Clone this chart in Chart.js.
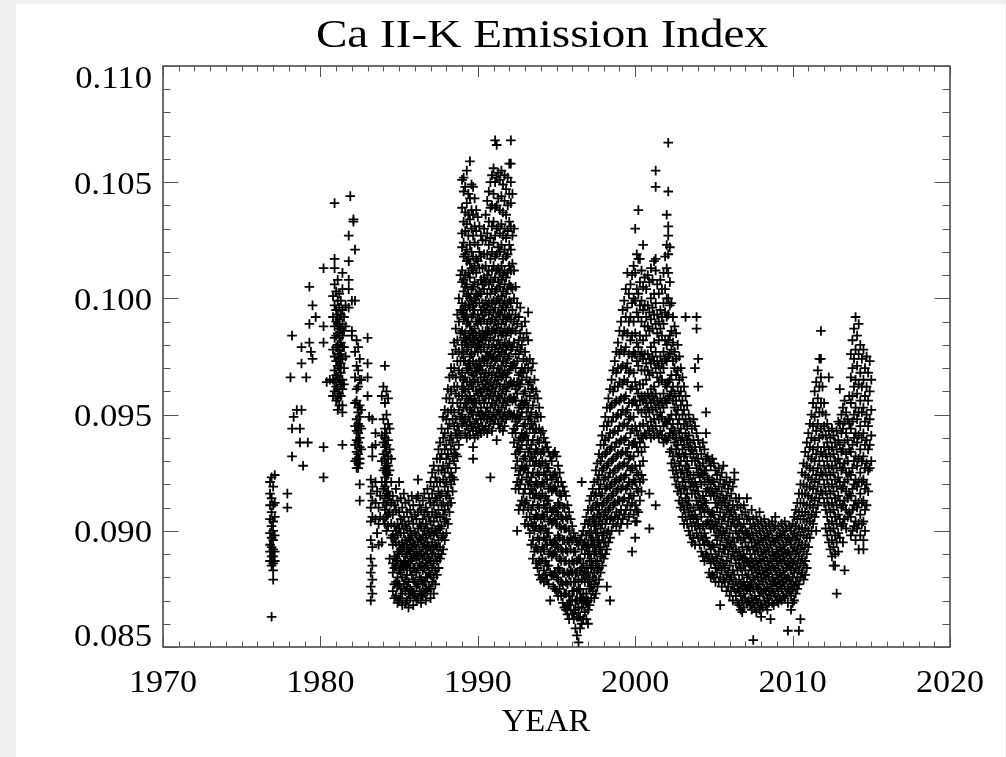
<!DOCTYPE html>
<html>
<head>
<meta charset="utf-8">
<title>Ca II-K Emission Index</title>
<script src="https://cdn.jsdelivr.net/npm/chart.js@4.4.0/dist/chart.umd.min.js"></script>
<style>
  html, body { margin: 0; padding: 0; background: #efefef; }
  #sheet { position: absolute; left: 16px; top: 4px; width: 989px; height: 753px; background: #fff; }
  #kChart { position: absolute; left: 0; top: 0; }
</style>
</head>
<body>
<div id="sheet"></div>
<canvas id="kChart" width="1006" height="757"></canvas>
<script>
// Ejes y textos
const chartTitle = 'Ca II-K Emission Index';
const xTitle = 'YEAR';
const yearTicks = [1970, 1980, 1990, 2000, 2010, 2020];
const indexTicks = [0.085, 0.090, 0.095, 0.100, 0.105, 0.110];

// Observaciones del índice K agrupadas por temporada: [año decimal, [valores del índice]]
const cycle21 = [
  [1976.8, [.0921, .0916, .0911, .0905, .0899, .0894, .0891, .0887]],
  [1976.9, [.0923, .0914, .0908, .0902, .0897, .0893, .0889, .0885, .0863]],
  [1977.0, [.0919, .0911, .0904, .0900, .0896, .0892, .0889, .0886, .0883, .0879]],
  [1977.1, [.0924, .0912, .0906, .0898, .0891, .0887]],
  [1977.9, [.0916, .0910]],
  [1978.1, [.0966]],
  [1978.2, [.0984, .0944, .0932]],
  [1978.3, [.0949]],
  [1978.5, [.0952]],
  [1978.7, [.0944, .0938]],
  [1978.8, [.0979, .0972, .0952]],
  [1978.9, [.0928]],
  [1979.1, [.0966]],
  [1979.2, [.0938]],
  [1979.3, [.1005, .0989, .0981]],
  [1979.4, [.0977]],
  [1979.5, [.0997, .0974]],
  [1979.7, [.0992]],
  [1980.2, [.1013, .0988, .0981, .0936, .0923]],
  [1980.4, [.0964]],
  [1980.6, [.0965]],
  [1980.8, [.1001, .0992, .0978, .0965, .0958]],
  [1980.9, [.1041, .1017, .1013, .1006, .0997, .0988, .0983, .0975, .0969, .0964, .0960]],
  [1981.0, [.1003, .0995, .0990, .0984, .0979, .0973, .0967, .0962, .0956]],
  [1981.1, [.1008, .0999, .0993, .0989, .0985, .0980, .0976, .0971, .0966, .0961, .0957, .0952]],
  [1981.2, [.1002, .0996, .0991, .0987, .0983, .0978, .0974, .0970, .0965, .0959, .0954]],
  [1981.3, [.0999, .0993, .0987, .0981, .0976, .0972, .0968, .0963, .0958]],
  [1981.4, [.1011, .1004, .0995, .0989, .0984, .0979, .0974, .0965, .0961, .0954, .0951, .0937]],
  [1981.5, [.0992, .0986, .0979, .0970, .0963]],
  [1981.6, [.0997, .0988, .0975]],
  [1981.8, [.1027, .1016, .1008, .1004, .0996]],
  [1981.9, [.1044]],
  [1982.0, [.0999, .0986, .0984]],
  [1982.1, [.1034, .1033]],
  [1982.2, [.1021, .0999, .0977, .0966, .0955, .0945, .0937, .0930]],
  [1982.3, [.0982, .0971, .0961, .0956, .0948, .0943, .0939, .0934, .0931, .0927]],
  [1982.4, [.0979, .0969, .0962, .0953, .0951, .0946, .0942, .0938, .0933, .0929, .0927]],
  [1982.5, [.0974, .0965, .0954, .0949, .0945, .0940, .0936, .0931, .0929, .0920, .0913]],
  [1982.6, [.0965, .0952, .0944, .0935]],
  [1983.0, [.0983, .0972, .0966, .0958]],
  [1983.1, [.0949]],
  [1983.2, [.0922, .0916, .0910, .0904, .0896, .0888, .0882, .0876, .0870]],
  [1983.3, [.0948, .0936, .0932, .0919, .0913, .0906, .0893, .0885, .0879, .0873]],
  [1983.5, [.0942, .0937, .0921, .0912, .0905]],
  [1983.6, [.0917, .0899]],
  [1983.7, [.0910, .0903, .0894]],
  [1983.8, [.0915, .0906]],
  [1983.9, [.0958, .0941, .0930, .0921, .0895]],
  [1984.0, [.0962, .0948, .0938, .0933, .0926, .0918, .0912, .0905]],
  [1984.1, [.0971, .0955, .0944, .0940, .0936, .0931, .0927, .0923, .0919, .0914, .0909, .0903]],
  [1984.2, [.0960, .0950, .0942, .0937, .0934, .0929, .0925, .0921, .0916, .0911, .0906, .0900]],
  [1984.3, [.0957, .0946, .0939, .0932, .0928, .0924, .0917, .0913, .0907, .0902]],
  [1984.4, [.0944, .0935, .0926, .0915, .0908, .0888]],
  [1984.5, [.0931, .0921, .0912, .0903, .0897]],
  [1984.6, [.0915, .0907, .0898, .0894, .0886, .0882, .0874]],
  [1984.7, [.0911, .0902, .0897, .0889, .0884, .0877, .0871]],
  [1984.8, [.0918, .0909, .0900, .0895, .0888, .0885, .0878, .0872]],
  [1984.9, [.0913, .0903, .0898, .0891, .0887, .0880, .0876, .0869]],
  [1985.0, [.0921, .0908, .0901, .0894, .0890, .0883, .0877, .0870]],
  [1985.1, [.0914, .0905, .0899, .0892, .0886, .0882, .0875, .0871]],
  [1985.2, [.0910, .0903, .0895, .0891, .0885, .0880, .0873, .0868]],
  [1985.3, [.0916, .0906, .0899, .0893, .0887, .0884, .0877]],
  [1985.4, [.0912, .0902, .0896, .0889, .0885, .0879, .0874, .0869]],
  [1985.5, [.0908, .0901, .0894, .0890, .0885, .0881, .0876, .0870]],
  [1985.6, [.0913, .0904, .0897, .0892, .0886, .0878, .0873, .0867]],
  [1985.7, [.0909, .0900, .0896, .0891, .0887, .0883, .0875, .0871]],
  [1985.8, [.0915, .0906, .0898, .0893, .0888, .0881, .0874]],
  [1985.9, [.0911, .0903, .0895, .0890, .0884, .0879, .0873, .0868]],
  [1986.0, [.0907, .0899, .0894, .0889, .0884, .0878, .0872]],
  [1986.1, [.0914, .0905, .0898, .0892, .0888, .0882, .0876, .0870]],
  [1986.2, [.0922, .0915, .0908, .0901, .0895, .0889, .0884, .0877, .0871]],
  [1986.3, [.0911, .0903, .0897, .0891, .0886, .0880, .0874]],
  [1986.4, [.0909, .0902, .0896, .0890, .0885, .0879, .0873, .0869]]
];

const cycle22 = [
  [1986.5, [.0913, .0905, .0898, .0893, .0888, .0883, .0877, .0872]],
  [1986.6, [.0916, .0907, .0900, .0894, .0889, .0884, .0878, .0873]],
  [1986.7, [.0910, .0903, .0897, .0892, .0886, .0880, .0875, .0870]],
  [1986.8, [.0918, .0908, .0901, .0895, .0890, .0885, .0880, .0874]],
  [1986.9, [.0914, .0906, .0899, .0893, .0888, .0882, .0876]],
  [1987.0, [.0921, .0912, .0904, .0898, .0892, .0887, .0881, .0875, .0871]],
  [1987.1, [.0925, .0916, .0908, .0901, .0895, .0890, .0884, .0878]],
  [1987.2, [.0928, .0919, .0911, .0904, .0898, .0892, .0886, .0880, .0873]],
  [1987.3, [.0923, .0914, .0907, .0900, .0894, .0889, .0883, .0877]],
  [1987.4, [.0931, .0921, .0913, .0906, .0899, .0893, .0887, .0881]],
  [1987.5, [.0935, .0926, .0917, .0909, .0902, .0896, .0890, .0884]],
  [1987.6, [.0938, .0931, .0921, .0915, .0906, .0901, .0893, .0888]],
  [1987.7, [.0944, .0933, .0926, .0916, .0911, .0902, .0897, .0890]],
  [1987.8, [.0949, .0940, .0928, .0922, .0912, .0907, .0898, .0892]],
  [1987.9, [.0952, .0942, .0935, .0925, .0919, .0909, .0904, .0896]],
  [1988.0, [.0957, .0948, .0937, .0931, .0921, .0915, .0905, .0899]],
  [1988.1, [.0961, .0951, .0944, .0933, .0927, .0917, .0911, .0903]],
  [1988.2, [.0966, .0957, .0946, .0939, .0929, .0923, .0914, .0908]],
  [1988.3, [.0970, .0960, .0952, .0941, .0935, .0925, .0920, .0912]],
  [1988.4, [.0976, .0967, .0955, .0948, .0938, .0932, .0923, .0917]],
  [1988.5, [.0981, .0970, .0962, .0951, .0945, .0935, .0930, .0922]],
  [1988.6, [.0987, .0978, .0966, .0959, .0948, .0942, .0933, .0927]],
  [1988.7, [.0993, .0982, .0973, .0962, .0955, .0945, .0940, .0932]],
  [1988.8, [.1000, .0990, .0977, .0969, .0958, .0952, .0943, .0937]],
  [1988.9, [.1010, .0995, .0985, .0973, .0966, .0955, .0949, .0941]],
  [1989.0, [.1051, .1039, .1028, .1022, .1012, .1007, .0998, .0994, .0986, .0980, .0976, .0968, .0962, .0958, .0950, .0946]],
  [1989.1, [.1052, .1046, .1033, .1024, .1018, .1008, .1003, .0995, .0991, .0983, .0977, .0973, .0965, .0961, .0953, .0947]],
  [1989.2, [.1048, .1037, .1029, .1019, .1010, .1005, .0997, .0992, .0985, .0981, .0973, .0966, .0960, .0955, .0948, .0942]],
  [1989.3, [.1055, .1041, .1032, .1021, .1016, .1006, .1001, .0993, .0989, .0982, .0978, .0970, .0964, .0957, .0953, .0945, .0940]],
  [1989.4, [.1045, .1036, .1027, .1017, .1011, .1002, .0997, .0990, .0984, .0979, .0972, .0969, .0961, .0956, .0949, .0944]],
  [1989.5, [.1059, .1043, .1034, .1023, .1015, .1009, .1000, .0996, .0988, .0983, .0975, .0971, .0964, .0958, .0952, .0947, .0941]],
  [1989.6, [.1049, .1038, .1030, .1020, .1013, .1004, .0999, .0992, .0986, .0980, .0976, .0968, .0963, .0956, .0951, .0945]],
  [1989.7, [.1048, .1036, .1027, .1018, .1012, .1005, .0997, .0993, .0985, .0981, .0973, .0967, .0962, .0955, .0950, .0943, .0936, .0931]],
  [1989.8, [.1043, .1031, .1024, .1014, .1007, .1000, .0995, .0987, .0982, .0977, .0970, .0965, .0957, .0953, .0946, .0940]],
  [1989.9, [.1038, .1029, .1017, .1011, .1002, .0998, .0990, .0984, .0979, .0972, .0968, .0960, .0955, .0948, .0943]],
  [1990.0, [.1035, .1023, .1016, .1006, .1001, .0993, .0989, .0981, .0977, .0970, .0964, .0959, .0951, .0946, .0941]],
  [1990.1, [.1031, .1020, .1013, .1003, .0998, .0991, .0985, .0980, .0973, .0969, .0961, .0956, .0950, .0944]],
  [1990.2, [.1027, .1018, .1008, .1002, .0995, .0990, .0983, .0978, .0971, .0966, .0960, .0953, .0948, .0942]],
  [1990.3, [.1025, .1013, .1006, .0998, .0993, .0986, .0982, .0974, .0969, .0963, .0958, .0950, .0945]],
  [1990.4, [.1030, .1019, .1009, .1004, .0996, .0991, .0984, .0979, .0973, .0966, .0961, .0955, .0949, .0943]],
  [1990.5, [.1036, .1025, .1014, .1007, .0999, .0994, .0986, .0982, .0975, .0968, .0963, .0957, .0951, .0945]],
  [1990.6, [.1042, .1028, .1019, .1010, .1002, .0997, .0989, .0985, .0977, .0972, .0965, .0960, .0953, .0948, .0942]],
  [1990.7, [.1046, .1033, .1023, .1012, .1006, .0998, .0993, .0986, .0980, .0975, .0968, .0962, .0957, .0950, .0944]],
  [1990.8, [.1050, .1039, .1026, .1017, .1008, .1002, .0995, .0990, .0983, .0976, .0971, .0964, .0959, .0953, .0947, .0923]],
  [1990.9, [.1053, .1040, .1031, .1020, .1012, .1004, .0998, .0991, .0986, .0979, .0974, .0967, .0961, .0955, .0949, .0943]],
  [1991.0, [.1056, .1045, .1033, .1024, .1014, .1007, .0999, .0994, .0987, .0982, .0975, .0970, .0963, .0958, .0951, .0946]],
  [1991.1, [.1068, .1050, .1039, .1027, .1018, .1009, .1003, .0996, .0990, .0985, .0978, .0973, .0966, .0960, .0954, .0948]],
  [1991.2, [.1066, .1052, .1040, .1030, .1019, .1012, .1004, .0999, .0992, .0987, .0980, .0974, .0968, .0963, .0956, .0950, .0939]],
  [1991.3, [.1054, .1043, .1031, .1022, .1013, .1007, .1000, .0994, .0989, .0982, .0977, .0970, .0965, .0958, .0952, .0946]],
  [1991.4, [.1051, .1038, .1028, .1020, .1011, .1005, .0998, .0993, .0986, .0980, .0975, .0968, .0962, .0957, .0950, .0944]],
  [1991.5, [.1055, .1044, .1032, .1023, .1014, .1008, .1001, .0995, .0989, .0984, .0977, .0971, .0966, .0959, .0953, .0947]],
  [1991.6, [.1049, .1037, .1027, .1017, .1010, .1003, .0997, .0991, .0985, .0979, .0973, .0967, .0961, .0955, .0949, .0943]],
  [1991.7, [.1053, .1042, .1030, .1021, .1012, .1006, .0999, .0993, .0987, .0981, .0976, .0969, .0963, .0957, .0951, .0945]],
  [1991.8, [.1047, .1036, .1026, .1018, .1009, .1002, .0996, .0990, .0984, .0978, .0972, .0966, .0960, .0954, .0948]],
  [1991.9, [.1052, .1040, .1029, .1019, .1011, .1004, .0998, .0992, .0986, .0980, .0974, .0968, .0962, .0956, .0950]],
  [1992.0, [.1058, .1045, .1033, .1023, .1014, .1006, .0999, .0993, .0987, .0981, .0975, .0969, .0963, .0957, .0951]],
  [1992.1, [.1068, .1058, .1050, .1041, .1031, .1021, .1012, .1005, .0998, .0991, .0985, .0978, .0971, .0964, .0957, .0950]],
  [1992.2, [.1045, .1027, .1015, .1004, .0995, .0987, .0979, .0971, .0963, .0956, .0949, .0942]],
  [1992.3, [.1030, .1012, .1000, .0990, .0981, .0972, .0964, .0957, .0950, .0944, .0938]],
  [1992.4, [.1005, .0993, .0986, .0976, .0970, .0961, .0956, .0947, .0942, .0933, .0927, .0918]],
  [1992.5, [.0998, .0989, .0979, .0973, .0964, .0959, .0950, .0945, .0936, .0930, .0921, .0900]],
  [1992.6, [.0992, .0982, .0976, .0967, .0962, .0953, .0948, .0939, .0934, .0924, .0918, .0909]],
  [1992.7, [.0996, .0985, .0978, .0968, .0963, .0954, .0949, .0940, .0935, .0926, .0920, .0911]],
  [1992.8, [.0988, .0980, .0970, .0965, .0956, .0951, .0942, .0937, .0928, .0922, .0913]],
  [1992.9, [.0983, .0974, .0968, .0959, .0954, .0945, .0940, .0931, .0926, .0916, .0909]],
  [1993.0, [.0990, .0977, .0970, .0960, .0955, .0946, .0941, .0932, .0927, .0918, .0912, .0903]],
  [1993.1, [.0985, .0973, .0966, .0956, .0951, .0942, .0937, .0928, .0923, .0913, .0906]],
  [1993.2, [.0994, .0982, .0970, .0963, .0953, .0948, .0939, .0934, .0925, .0920, .0910, .0902]],
  [1993.3, [.0974, .0964, .0958, .0949, .0944, .0935, .0930, .0921, .0916, .0906, .0899]],
  [1993.4, [.0969, .0961, .0951, .0946, .0937, .0932, .0923, .0918, .0909, .0903, .0894]],
  [1993.5, [.0972, .0961, .0954, .0944, .0939, .0930, .0925, .0916, .0911, .0902, .0896, .0888]],
  [1993.6, [.0965, .0957, .0947, .0942, .0933, .0928, .0919, .0914, .0905, .0900, .0891]],
  [1993.7, [.0960, .0950, .0944, .0935, .0930, .0921, .0916, .0907, .0902, .0893, .0886]],
  [1993.8, [.0957, .0949, .0939, .0934, .0925, .0920, .0911, .0906, .0897, .0892, .0884]],
  [1993.9, [.0953, .0944, .0938, .0929, .0924, .0915, .0910, .0901, .0896, .0887, .0881]],
  [1994.0, [.0949, .0942, .0933, .0928, .0919, .0914, .0905, .0900, .0891, .0886, .0879]],
  [1994.1, [.0943, .0935, .0930, .0921, .0916, .0907, .0902, .0893, .0888, .0880]],
  [1994.2, [.0940, .0934, .0925, .0920, .0911, .0906, .0897, .0892, .0883, .0878]],
  [1994.3, [.0938, .0929, .0924, .0915, .0910, .0901, .0896, .0887, .0881]],
  [1994.4, [.0936, .0927, .0922, .0913, .0908, .0899, .0894, .0885, .0879]],
  [1994.5, [.0934, .0927, .0918, .0913, .0904, .0899, .0890, .0885, .0877]],
  [1994.6, [.0932, .0924, .0919, .0910, .0905, .0896, .0891, .0882, .0870]],
  [1994.7, [.0930, .0922, .0917, .0908, .0903, .0894, .0889, .0881]],
  [1994.8, [.0933, .0924, .0918, .0909, .0904, .0895, .0890, .0881, .0876]],
  [1994.9, [.0934, .0925, .0919, .0910, .0905, .0896, .0891, .0882, .0875]],
  [1995.0, [.0932, .0923, .0917, .0908, .0903, .0894, .0889, .0880, .0874]],
  [1995.1, [.0928, .0921, .0912, .0907, .0898, .0893, .0884, .0879, .0872]],
  [1995.2, [.0925, .0916, .0911, .0902, .0897, .0888, .0883, .0875]],
  [1995.3, [.0921, .0915, .0906, .0901, .0892, .0887, .0878, .0872]],
  [1995.4, [.0919, .0910, .0905, .0896, .0891, .0882, .0877, .0869]],
  [1995.5, [.0917, .0910, .0901, .0896, .0887, .0882, .0873, .0867]],
  [1995.6, [.0915, .0906, .0901, .0892, .0887, .0878, .0873, .0866]],
  [1995.7, [.0911, .0905, .0896, .0891, .0882, .0877, .0868, .0864]],
  [1995.8, [.0908, .0900, .0895, .0886, .0881, .0872, .0868, .0862]],
  [1995.9, [.0905, .0897, .0892, .0883, .0878, .0870, .0866]],
  [1996.0, [.0902, .0896, .0887, .0882, .0874, .0870, .0864]],
  [1996.1, [.0899, .0891, .0886, .0878, .0874, .0866, .0862]],
  [1996.2, [.0897, .0891, .0882, .0878, .0870, .0866, .0858]],
  [1996.3, [.0895, .0887, .0882, .0874, .0870, .0863, .0855]],
  [1996.4, [.0894, .0888, .0879, .0875, .0867, .0863, .0852]],
  [1996.5, [.0896, .0888, .0883, .0875, .0871, .0863, .0858]]
];

const cycle23 = [
  [1996.6, [.0921, .0898, .0892, .0884, .0879, .0871, .0867, .0860]],
  [1996.7, [.0900, .0894, .0886, .0881, .0873, .0869, .0862]],
  [1996.8, [.0903, .0895, .0890, .0882, .0878, .0870, .0865]],
  [1996.9, [.0906, .0898, .0893, .0885, .0881, .0873, .0869, .0862]],
  [1997.0, [.0909, .0903, .0894, .0890, .0882, .0878, .0870, .0866, .0860]],
  [1997.1, [.0913, .0904, .0899, .0891, .0887, .0879, .0875, .0868]],
  [1997.2, [.0915, .0909, .0900, .0896, .0888, .0884, .0876, .0871]],
  [1997.3, [.0918, .0910, .0905, .0897, .0893, .0885, .0880, .0874]],
  [1997.4, [.0921, .0915, .0906, .0902, .0894, .0890, .0882, .0877, .0871]],
  [1997.5, [.0926, .0916, .0911, .0903, .0899, .0891, .0886, .0879, .0873]],
  [1997.6, [.0929, .0922, .0912, .0907, .0899, .0895, .0887, .0883, .0876]],
  [1997.7, [.0933, .0924, .0918, .0909, .0904, .0896, .0892, .0884, .0879]],
  [1997.8, [.0937, .0930, .0920, .0915, .0906, .0901, .0893, .0889, .0882]],
  [1997.9, [.0941, .0932, .0926, .0916, .0911, .0903, .0898, .0890, .0885]],
  [1998.0, [.0945, .0937, .0927, .0922, .0912, .0907, .0899, .0895, .0888]],
  [1998.1, [.0949, .0939, .0933, .0923, .0918, .0908, .0903, .0895, .0890]],
  [1998.2, [.0953, .0945, .0934, .0928, .0919, .0913, .0905, .0899, .0892, .0876]],
  [1998.3, [.0957, .0947, .0940, .0929, .0923, .0914, .0909, .0900, .0895]],
  [1998.4, [.0961, .0953, .0942, .0935, .0925, .0919, .0910, .0905, .0897, .0870]],
  [1998.5, [.0965, .0954, .0947, .0936, .0930, .0920, .0915, .0906, .0900]],
  [1998.6, [.0969, .0960, .0949, .0942, .0931, .0925, .0916, .0911, .0903]],
  [1998.7, [.0973, .0962, .0955, .0943, .0936, .0926, .0921, .0912, .0906]],
  [1998.8, [.0977, .0968, .0956, .0949, .0938, .0932, .0922, .0917, .0908, .0902]],
  [1998.9, [.0981, .0970, .0962, .0950, .0943, .0933, .0927, .0918, .0913, .0905]],
  [1999.0, [.0986, .0976, .0964, .0956, .0945, .0938, .0928, .0922, .0913, .0907, .0900]],
  [1999.1, [.0990, .0978, .0970, .0957, .0950, .0939, .0933, .0923, .0918, .0909, .0903]],
  [1999.2, [.0995, .0984, .0971, .0963, .0952, .0945, .0934, .0928, .0919, .0913, .0905]],
  [1999.3, [.0999, .0986, .0977, .0965, .0957, .0946, .0939, .0929, .0923, .0914, .0907]],
  [1999.4, [.1004, .0992, .0979, .0970, .0958, .0951, .0940, .0934, .0924, .0918, .0909]],
  [1999.5, [.1011, .0996, .0985, .0972, .0964, .0952, .0945, .0934, .0928, .0919, .0911, .0903]],
  [1999.6, [.1002, .0990, .0976, .0968, .0955, .0948, .0937, .0931, .0921, .0914, .0906]],
  [1999.7, [.1006, .0992, .0982, .0969, .0961, .0949, .0942, .0932, .0926, .0916, .0909]],
  [1999.8, [.1010, .0998, .0984, .0975, .0962, .0955, .0944, .0937, .0927, .0920, .0912, .0891]],
  [1999.9, [.1014, .1000, .0990, .0977, .0968, .0956, .0949, .0938, .0932, .0922, .0915, .0907]],
  [2000.0, [.1030, .1011, .0999, .0985, .0976, .0964, .0956, .0945, .0938, .0928, .0921, .0911, .0904, .0897]],
  [2000.1, [.1019, .1004, .0994, .0981, .0973, .0961, .0954, .0943, .0936, .0925, .0918, .0909, .0904]],
  [2000.2, [.1038, .1017, .1002, .0992, .0979, .0971, .0959, .0952, .0941, .0934, .0924, .0917, .0908]],
  [2000.3, [.1017, .1007, .0997, .0984, .0975, .0963, .0956, .0945, .0938, .0928, .0921, .0913]],
  [2000.4, [.1012, .0999, .0990, .0977, .0969, .0958, .0951, .0940, .0934, .0924, .0917]],
  [2000.5, [.1023, .1005, .0995, .0982, .0974, .0963, .0956, .0946, .0940, .0930, .0922]],
  [2000.6, [.1009, .0997, .0988, .0976, .0969, .0958, .0952, .0942, .0936]],
  [2000.7, [.1004, .0992, .0984, .0972, .0965, .0955, .0949, .0941]],
  [2000.8, [.1010, .0997, .0988, .0976, .0969, .0959, .0953, .0945]],
  [2000.9, [.1007, .0994, .0986, .0974, .0967, .0957, .0951, .0943, .0916, .0901]],
  [2001.0, [.1013, .1000, .0991, .0979, .0972, .0961, .0955, .0947, .0940]],
  [2001.1, [.1008, .0996, .0987, .0975, .0968, .0958, .0952, .0944]],
  [2001.2, [.1016, .1002, .0993, .0981, .0973, .0962, .0956, .0948, .0941]],
  [2001.3, [.1055, .1048, .1017, .1012, .0998, .0989, .0977, .0970, .0959, .0953, .0945, .0911]],
  [2001.4, [.1006, .0993, .0985, .0973, .0966, .0956, .0950, .0942]],
  [2001.5, [.1002, .0990, .0982, .0971, .0964, .0954, .0948, .0940]],
  [2001.6, [.1008, .0995, .0987, .0975, .0968, .0957, .0951, .0943]],
  [2001.7, [.1004, .0992, .0984, .0972, .0965, .0955, .0949, .0941]],
  [2001.8, [.1011, .0998, .0989, .0977, .0970, .0959, .0953, .0945, .0938]],
  [2001.9, [.1018, .1004, .0994, .0982, .0974, .0963, .0956, .0947, .0940]],
  [2002.0, [.1036, .1023, .1013, .1000, .0992, .0980, .0973, .0962, .0955, .0946, .0939]],
  [2002.1, [.1067, .1046, .1031, .1027, .1019, .1011, .1000, .0993, .0982, .0975, .0964, .0957, .0948, .0940]],
  [2002.2, [.1022, .1007, .0997, .0984, .0976, .0965, .0958, .0948, .0942, .0934]],
  [2002.3, [.0998, .0986, .0978, .0967, .0960, .0950, .0944, .0935, .0929]],
  [2002.4, [.0992, .0981, .0973, .0962, .0956, .0946, .0941, .0932, .0926]],
  [2002.5, [.0988, .0977, .0970, .0959, .0953, .0943, .0938, .0929, .0923]],
  [2002.6, [.0985, .0974, .0967, .0956, .0950, .0940, .0935, .0926, .0920]],
  [2002.7, [.0980, .0969, .0962, .0952, .0946, .0937, .0932, .0923, .0917]],
  [2002.8, [.0975, .0965, .0958, .0948, .0942, .0933, .0928, .0919, .0913]],
  [2002.9, [.0970, .0960, .0954, .0944, .0939, .0930, .0925, .0916, .0910]],
  [2003.0, [.0966, .0956, .0950, .0940, .0935, .0926, .0921, .0912, .0906]],
  [2003.1, [.0962, .0952, .0946, .0937, .0932, .0923, .0918, .0909, .0903]],
  [2003.2, [.0992, .0958, .0948, .0942, .0933, .0928, .0919, .0914, .0906]],
  [2003.3, [.0954, .0945, .0939, .0930, .0925, .0916, .0911, .0903]],
  [2003.4, [.0950, .0941, .0936, .0927, .0922, .0913, .0908, .0900]],
  [2003.5, [.0947, .0938, .0933, .0924, .0919, .0910, .0905, .0898]],
  [2003.6, [.0944, .0935, .0930, .0921, .0916, .0907, .0902, .0895]],
  [2003.7, [.0948, .0939, .0933, .0924, .0919, .0910, .0905, .0897]],
  [2003.8, [.0970, .0945, .0936, .0930, .0921, .0916, .0907, .0902, .0894]],
  [2003.9, [.0992, .0987, .0942, .0933, .0927, .0919, .0913, .0905, .0899]],
  [2004.0, [.0974, .0962, .0939, .0931, .0925, .0917, .0911, .0903, .0897]],
  [2004.1, [.0936, .0928, .0923, .0914, .0909, .0901, .0894]],
  [2004.2, [.0933, .0925, .0920, .0911, .0906, .0898, .0891]],
  [2004.3, [.0938, .0929, .0924, .0915, .0910, .0902, .0896, .0889]],
  [2004.4, [.0935, .0926, .0921, .0913, .0908, .0899, .0894, .0887]],
  [2004.5, [.0951, .0942, .0931, .0926, .0917, .0912, .0903, .0897, .0890]],
  [2004.6, [.0932, .0923, .0918, .0909, .0904, .0895, .0889]],
  [2004.7, [.0930, .0922, .0917, .0908, .0903, .0894, .0888, .0882]],
  [2004.8, [.0928, .0920, .0915, .0906, .0901, .0892, .0886, .0880]],
  [2004.9, [.0931, .0922, .0917, .0908, .0903, .0894, .0888, .0881]],
  [2005.0, [.0929, .0921, .0915, .0907, .0901, .0893, .0887, .0880]],
  [2005.1, [.0926, .0918, .0912, .0904, .0898, .0890, .0884, .0878]],
  [2005.2, [.0924, .0916, .0910, .0902, .0896, .0888, .0882]],
  [2005.3, [.0927, .0919, .0913, .0905, .0899, .0891, .0885, .0878]],
  [2005.4, [.0922, .0914, .0908, .0900, .0894, .0886, .0880, .0868]],
  [2005.5, [.0925, .0917, .0911, .0903, .0897, .0889, .0883, .0876]],
  [2005.6, [.0928, .0920, .0914, .0906, .0900, .0892, .0886, .0879]],
  [2005.7, [.0920, .0912, .0906, .0898, .0892, .0884, .0878]],
  [2005.8, [.0923, .0915, .0909, .0901, .0895, .0887, .0881, .0874]],
  [2005.9, [.0918, .0910, .0904, .0896, .0890, .0882, .0876]],
  [2006.0, [.0921, .0913, .0907, .0899, .0893, .0885, .0879, .0872]],
  [2006.1, [.0916, .0908, .0902, .0894, .0888, .0880, .0874]],
  [2006.2, [.0919, .0911, .0905, .0897, .0891, .0883, .0877, .0870]],
  [2006.3, [.0925, .0922, .0909, .0903, .0895, .0889, .0881, .0875]],
  [2006.4, [.0914, .0906, .0900, .0892, .0886, .0878, .0872]],
  [2006.5, [.0911, .0903, .0897, .0889, .0883, .0875, .0869]],
  [2006.6, [.0914, .0905, .0899, .0891, .0886, .0879, .0874, .0868]],
  [2006.7, [.0910, .0902, .0896, .0889, .0884, .0877, .0872, .0866]],
  [2006.8, [.0907, .0900, .0893, .0888, .0881, .0876, .0870, .0865]],
  [2006.9, [.0911, .0903, .0897, .0890, .0885, .0878, .0873, .0867]],
  [2007.0, [.0908, .0900, .0895, .0888, .0883, .0876, .0871]],
  [2007.1, [.0914, .0905, .0899, .0892, .0887, .0880, .0875, .0869]],
  [2007.2, [.0906, .0898, .0893, .0886, .0881, .0876, .0870]],
  [2007.3, [.0903, .0897, .0890, .0885, .0878, .0874, .0868]],
  [2007.4, [.0909, .0901, .0895, .0888, .0883, .0877, .0871, .0866]],
  [2007.5, [.0905, .0898, .0892, .0886, .0880, .0875, .0869, .0853]],
  [2007.6, [.0902, .0895, .0890, .0884, .0879, .0872, .0867]],
  [2007.7, [.0906, .0899, .0893, .0887, .0882, .0876, .0870, .0865]],
  [2007.8, [.0903, .0896, .0891, .0885, .0880, .0875, .0869]],
  [2007.9, [.0908, .0900, .0894, .0888, .0883, .0877, .0872, .0866]],
  [2008.0, [.0904, .0897, .0891, .0886, .0880, .0874, .0868, .0863]],
  [2008.1, [.0901, .0895, .0889, .0883, .0878, .0873, .0867]],
  [2008.2, [.0905, .0898, .0892, .0887, .0881, .0875, .0870]],
  [2008.3, [.0902, .0896, .0890, .0884, .0879, .0874, .0868]],
  [2008.4, [.0899, .0893, .0887, .0882, .0876, .0871, .0866]],
  [2008.5, [.0903, .0897, .0891, .0885, .0880, .0874, .0869]],
  [2008.6, [.0900, .0894, .0888, .0883, .0877, .0872, .0862]],
  [2008.7, [.0904, .0897, .0891, .0886, .0880, .0875, .0869]],
  [2008.8, [.0901, .0895, .0889, .0884, .0878, .0873, .0868]],
  [2008.9, [.0906, .0902, .0895, .0889, .0883, .0878, .0872]]
];

const cycle24 = [
  [2009.0, [.0898, .0892, .0887, .0881, .0876, .0870]],
  [2009.1, [.0902, .0896, .0890, .0885, .0879, .0874, .0869]],
  [2009.2, [.0899, .0893, .0888, .0882, .0877, .0871]],
  [2009.3, [.0903, .0897, .0891, .0886, .0880, .0875, .0870]],
  [2009.4, [.0900, .0894, .0889, .0883, .0878, .0872]],
  [2009.5, [.0904, .0898, .0892, .0887, .0881, .0876, .0871]],
  [2009.6, [.0901, .0895, .0890, .0884, .0879, .0873]],
  [2009.7, [.0897, .0891, .0886, .0880, .0875, .0869, .0857]],
  [2009.8, [.0902, .0896, .0890, .0885, .0879, .0874]],
  [2009.9, [.0900, .0894, .0888, .0883, .0877, .0872, .0866]],
  [2010.0, [.0903, .0897, .0891, .0886, .0880, .0875, .0869]],
  [2010.1, [.0906, .0899, .0893, .0887, .0882, .0876, .0870]],
  [2010.2, [.0909, .0902, .0896, .0890, .0884, .0878, .0873]],
  [2010.3, [.0912, .0905, .0898, .0892, .0886, .0880, .0875]],
  [2010.4, [.0916, .0908, .0901, .0895, .0889, .0883, .0877, .0857]],
  [2010.5, [.0920, .0912, .0905, .0898, .0892, .0886, .0880, .0862]],
  [2010.6, [.0925, .0916, .0908, .0901, .0894, .0888, .0882]],
  [2010.7, [.0929, .0920, .0912, .0905, .0898, .0891, .0885, .0879]],
  [2010.8, [.0934, .0924, .0916, .0908, .0901, .0894, .0887, .0881]],
  [2010.9, [.0938, .0928, .0919, .0911, .0904, .0897, .0890, .0884]],
  [2011.0, [.0942, .0932, .0923, .0915, .0907, .0900, .0893]],
  [2011.1, [.0946, .0936, .0927, .0919, .0911, .0904, .0897]],
  [2011.2, [.0950, .0940, .0931, .0922, .0914, .0907, .0900]],
  [2011.3, [.0955, .0945, .0935, .0926, .0918, .0910, .0903]],
  [2011.4, [.0960, .0949, .0939, .0930, .0921, .0913, .0906]],
  [2011.5, [.0964, .0953, .0943, .0933, .0924, .0916, .0908, .0900]],
  [2011.6, [.0969, .0957, .0946, .0936, .0927, .0919, .0911]],
  [2011.7, [.0974, .0962, .0951, .0940, .0930, .0922, .0914]],
  [2011.8, [.0986, .0974, .0966, .0955, .0944, .0934, .0925, .0917]],
  [2011.9, [.0962, .0951, .0941, .0932, .0924, .0916]],
  [2012.0, [.0955, .0945, .0936, .0928, .0920, .0912]],
  [2012.1, [.0950, .0941, .0933, .0925, .0917, .0909, .0901]],
  [2012.2, [.0946, .0938, .0930, .0922, .0914, .0906, .0898]],
  [2012.3, [.0966, .0943, .0935, .0927, .0919, .0911, .0903, .0895]],
  [2012.4, [.0940, .0932, .0924, .0916, .0908, .0900, .0892]],
  [2012.5, [.0944, .0936, .0928, .0920, .0912, .0904, .0896, .0889]],
  [2012.6, [.0941, .0933, .0925, .0917, .0909, .0901, .0893, .0885]],
  [2012.7, [.0938, .0930, .0922, .0914, .0906, .0898, .0890, .0885]],
  [2012.8, [.0943, .0935, .0927, .0919, .0911, .0903, .0895, .0873]],
  [2012.9, [.0947, .0939, .0931, .0923, .0915, .0907, .0899, .0891]],
  [2013.0, [.0961, .0946, .0937, .0929, .0921, .0913, .0905, .0897]],
  [2013.1, [.0950, .0942, .0934, .0926, .0918, .0910, .0902]],
  [2013.2, [.0953, .0944, .0935, .0927, .0919, .0911, .0903, .0895]],
  [2013.3, [.0956, .0947, .0938, .0929, .0921, .0913, .0905, .0883]],
  [2013.4, [.0951, .0942, .0933, .0925, .0917, .0909, .0901]],
  [2013.5, [.0948, .0939, .0930, .0922, .0914, .0906]],
  [2013.6, [.0958, .0946, .0935, .0925, .0916, .0908]],
  [2013.7, [.0976, .0966, .0955, .0944, .0934, .0924, .0915, .0906, .0898]],
  [2013.8, [.0982, .0970, .0958, .0947, .0937, .0927, .0918, .0909, .0900]],
  [2013.9, [.0987, .0974, .0962, .0950, .0940, .0930, .0920, .0911, .0902]],
  [2014.0, [.0992, .0978, .0965, .0953, .0942, .0932, .0922, .0913, .0904, .0896]],
  [2014.1, [.0984, .0971, .0959, .0948, .0938, .0928, .0919, .0910, .0901]],
  [2014.2, [.0989, .0976, .0963, .0951, .0941, .0931, .0921, .0912, .0903, .0892]],
  [2014.3, [.0980, .0968, .0956, .0945, .0935, .0925, .0916, .0907, .0898]],
  [2014.4, [.0974, .0962, .0951, .0940, .0930, .0921, .0912, .0903]],
  [2014.5, [.0978, .0965, .0953, .0942, .0932, .0922, .0913, .0904, .0896, .0892]],
  [2014.6, [.0970, .0958, .0947, .0937, .0927, .0918, .0909, .0900]],
  [2014.7, [.0975, .0962, .0950, .0939, .0929, .0920, .0911]],
  [2014.8, [.0968, .0956, .0945, .0935, .0926, .0917]],
  [2014.9, [.0973, .0960, .0948, .0937, .0927]],
  [2015.0, [.0965, .0952, .0941, .0930]]
];

// Aplanar las temporadas a puntos {x, y}
const observaciones = [...cycle21, ...cycle22, ...cycle23, ...cycle24]
  .flatMap(([anio, valores]) => valores.map(v => ({ x: anio, y: v })));

const SERIF = '"Liberation Serif", "Times New Roman", serif';

// Texto con un leve estiramiento horizontal, como la fuente del gráfico original
function textoEstirado(ctx, texto, x, y, size, align, stretch) {
  ctx.save();
  ctx.translate(x, y);
  ctx.scale(stretch, 1);
  ctx.font = `${size}px ${SERIF}`;
  ctx.textAlign = align;
  ctx.textBaseline = 'alphabetic';
  ctx.fillText(texto, 0, 0);
  ctx.restore();
}

// Caja estilo IDL: marco, ticks hacia adentro en los cuatro lados y etiquetas
const marcoIDL = {
  id: 'marcoIDL',
  afterDatasetsDraw(chart) {
    const { ctx, chartArea: a, scales: { x, y } } = chart;
    ctx.save();
    ctx.strokeStyle = '#333';
    ctx.lineWidth = 1.4;
    ctx.strokeRect(a.left, a.top, a.right - a.left, a.bottom - a.top);

    ctx.lineWidth = 1;
    ctx.strokeStyle = '#555';
    ctx.beginPath();
    for (let anio = yearTicks[0]; anio <= yearTicks[yearTicks.length - 1]; anio++) {
      const px = Math.round(x.getPixelForValue(anio)) + 0.5;
      const len = anio % 10 === 0 ? 11 : 5.5;
      ctx.moveTo(px, a.bottom); ctx.lineTo(px, a.bottom - len);
      ctx.moveTo(px, a.top); ctx.lineTo(px, a.top + len);
    }
    for (let m = 85; m <= 110; m++) {
      const py = Math.round(y.getPixelForValue(m / 1000)) + 0.5;
      const len = m % 5 === 0 ? 15.5 : 7.5;
      ctx.moveTo(a.left, py); ctx.lineTo(a.left + len, py);
      ctx.moveTo(a.right, py); ctx.lineTo(a.right - len, py);
    }
    ctx.stroke();

    ctx.fillStyle = '#000';
    yearTicks.forEach(t => {
      textoEstirado(ctx, String(t), x.getPixelForValue(t), a.bottom + 45, 31, 'center', 1.1);
    });
    indexTicks.forEach(t => {
      const base = Math.min(Math.max(y.getPixelForValue(t) + 11.5, a.top + 21.5), a.bottom - 1);
      textoEstirado(ctx, t.toFixed(3), a.left - 11, base, 31, 'right', 1.12);
    });
    textoEstirado(ctx, chartTitle, 542, 47, 40, 'center', 1.18);
    textoEstirado(ctx, xTitle, 546, 731, 31, 'center', 1.05);
    ctx.restore();
  }
};

new Chart(document.getElementById('kChart'), {
  type: 'scatter',
  data: {
    datasets: [{
      data: observaciones,
      pointStyle: 'cross',
      pointRadius: 4.8,
      pointHoverRadius: 4.8,
      pointBorderColor: '#000',
      pointBorderWidth: 1.8,
      borderColor: '#000',
      backgroundColor: 'transparent'
    }]
  },
  options: {
    responsive: false,
    animation: false,
    events: [],
    layout: { padding: { left: 163, top: 66, right: 56, bottom: 110 } },
    plugins: {
      legend: { display: false },
      tooltip: { enabled: false },
      title: { display: false }
    },
    scales: {
      x: { type: 'linear', min: 1970, max: 2020, display: false },
      y: { type: 'linear', min: 0.085, max: 0.110, display: false }
    }
  },
  plugins: [marcoIDL]
});
</script>
</body>
</html>
